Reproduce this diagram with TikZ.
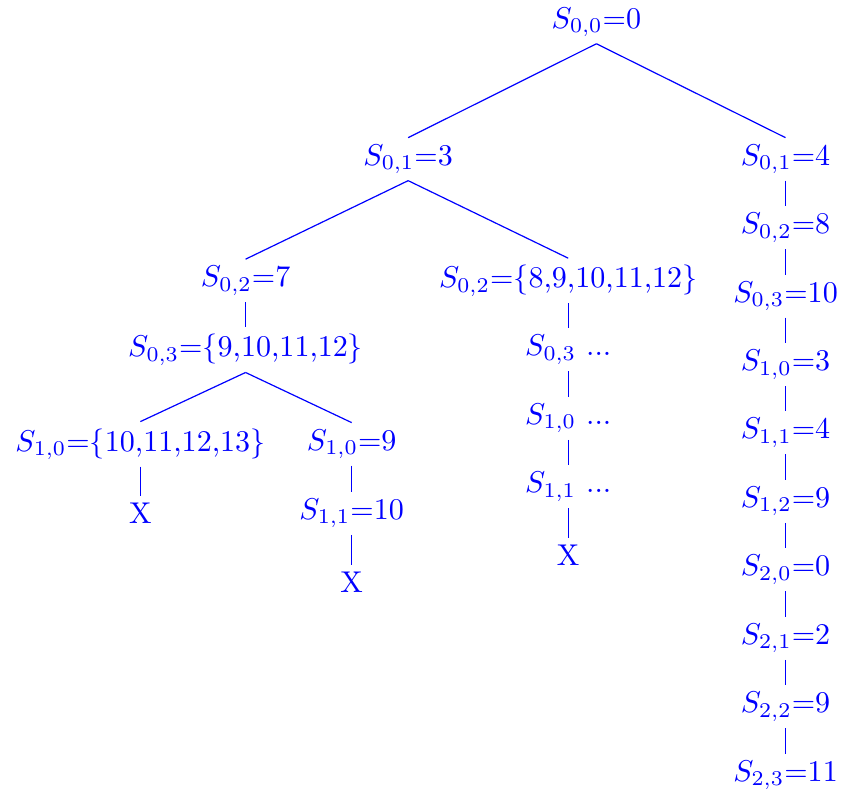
\documentclass[tikz,border=0pt]{standalone}
\usepackage{xcolor}
\usepackage{tikz}

\begin{document}
\begin{tikzpicture}[st/.style={text=blue, inner xsep=3.33pt, inner ysep=2.1pt}, edge/.style={draw=blue, line width=0.4pt}]
  \useasboundingbox (0,0) rectangle (9.84,-9.26);
  % root and first level
  \node[st] (r) at (6.97,-0.26) {$S_{0,0}$=0};
  \node[st] (a) at (4.77,-1.86) {$S_{0,1}$=3};
  \node[st] (b) at (9.18,-1.86) {$S_{0,1}$=4};
  % left branch
  \node[st] (a1) at (2.87,-3.28) {$S_{0,2}$=7};
  \node[st] (a2) at (2.87,-4.09) {$S_{0,3}$=$\{$9,10,11,12$\}$};
  \node[st] (a3) at (1.64,-5.19) {$S_{1,0}$=$\{$10,11,12,13$\}$};
  \node[st] (a4) at (1.64,-6.00) {X};
  \node[st] (a5) at (4.11,-5.19) {$S_{1,0}$=9};
  \node[st] (a6) at (4.11,-6.00) {$S_{1,1}$=10};
  \node[st] (a7) at (4.11,-6.80) {X};
  % middle branch
  \node[st] (m1) at (6.64,-3.28) {$S_{0,2}$=$\{$8,9,10,11,12$\}$};
  \node[st] (m2) at (6.64,-4.09) {$S_{0,3}$ ...};
  \node[st] (m3) at (6.64,-4.89) {$S_{1,0}$ ...};
  \node[st] (m4) at (6.64,-5.69) {$S_{1,1}$ ...};
  \node[st] (m5) at (6.64,-6.49) {X};
  % right chain
  \node[st] (b1) at (9.18,-2.66) {$S_{0,2}$=8};
  \node[st] (b2) at (9.18,-3.46) {$S_{0,3}$=10};
  \node[st] (b3) at (9.18,-4.26) {$S_{1,0}$=3};
  \node[st] (b4) at (9.18,-5.06) {$S_{1,1}$=4};
  \node[st] (b5) at (9.18,-5.86) {$S_{1,2}$=9};
  \node[st] (b6) at (9.18,-6.66) {$S_{2,0}$=0};
  \node[st] (b7) at (9.18,-7.46) {$S_{2,1}$=2};
  \node[st] (b8) at (9.18,-8.26) {$S_{2,2}$=9};
  \node[st] (b9) at (9.18,-9.06) {$S_{2,3}$=11};
  % edges
  \foreach \p/\c in {r/a, r/b, a/a1, a/m1, a1/a2, a2/a3, a2/a5, a3/a4, a5/a6, a6/a7,
                     m1/m2, m2/m3, m3/m4, m4/m5,
                     b/b1, b1/b2, b2/b3, b3/b4, b4/b5, b5/b6, b6/b7, b7/b8, b8/b9}
    \draw[edge] (\p.south) -- (\c.north);
\end{tikzpicture}
\end{document}
